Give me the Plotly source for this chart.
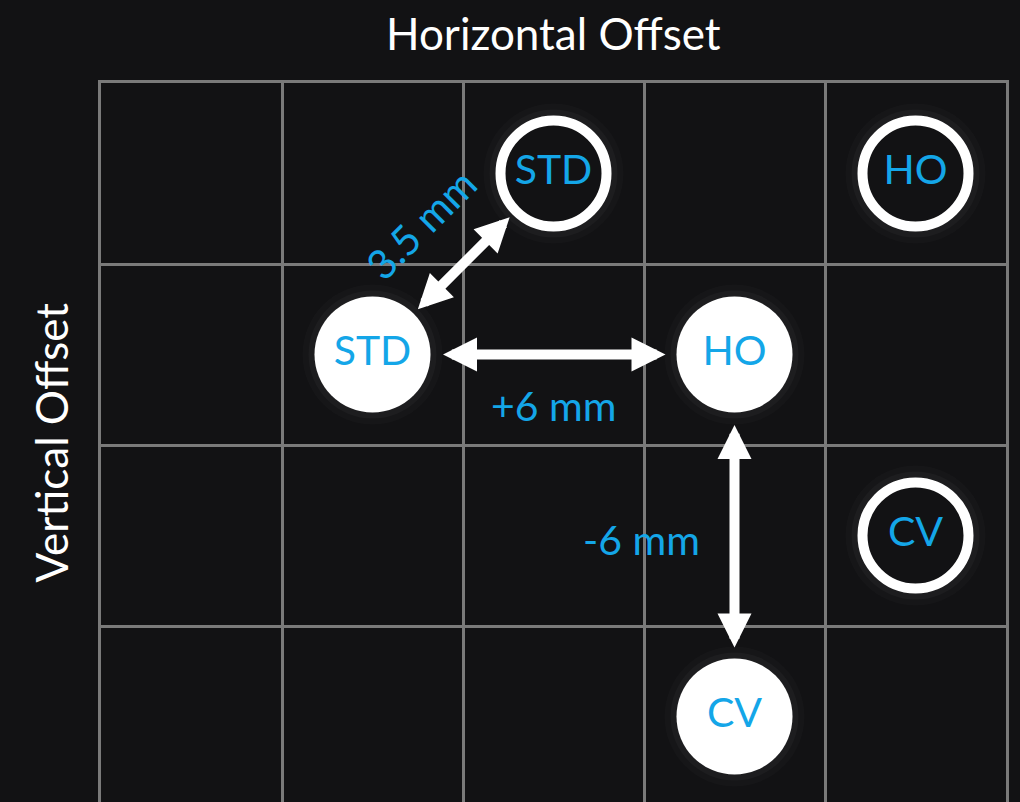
import plotly.graph_objects as go

# ---- data ----
labels_filled = ["STD", "HO", "CV"]
filled_col = [1, 3, 3]
filled_row = [1, 1, 3]

labels_outline = ["STD", "HO", "CV"]
outline_col = [2, 4, 4]
outline_row = [0, 0, 2]

# arrows: (from point, to point, label)
arrow_from = [("filled", 0), ("filled", 0), ("filled", 1)]
arrow_to = [("outline", 0), ("filled", 1), ("filled", 2)]
arrow_labels = ["3.5 mm", "+6 mm", "-6 mm"]

x_title = "Horizontal Offset"
y_title = "Vertical Offset"

BG = "#121214"
BLUE = "#14a6e8"
GRID = "#7a7a7a"
FONT = "Lato"

def pos(kind, i):
    if kind == "filled":
        return filled_col[i], filled_row[i]
    return outline_col[i], outline_row[i]

fig = go.Figure()

# soft glow behind circles
all_col = filled_col + outline_col
all_row = filled_row + outline_row
for size, alpha in [(140, 0.02), (128, 0.03)]:
    fig.add_trace(go.Scatter(
        x=all_col, y=all_row, mode="markers", hoverinfo="skip",
        marker=dict(size=size, color=f"rgba(255,255,255,{alpha})", line=dict(width=0)),
        showlegend=False))

fig.add_trace(go.Scatter(
    x=filled_col, y=filled_row, mode="markers+text", text=labels_filled,
    textposition="middle center",
    textfont=dict(family=FONT, size=41, color=BLUE),
    marker=dict(size=116, color="white", line=dict(width=0)),
    showlegend=False, hoverinfo="skip"))

fig.add_trace(go.Scatter(
    x=outline_col, y=outline_row, mode="markers+text", text=labels_outline,
    textposition="middle center",
    textfont=dict(family=FONT, size=41, color=BLUE),
    marker=dict(size=106, color=BG, line=dict(width=10, color="white")),
    showlegend=False, hoverinfo="skip"))

label_shift = [(-43, 40, -45), (0, -51, 0), (-93, -4, 0)]
for (fk, fi), (tk, ti), lab, (dx, dy, ang) in zip(arrow_from, arrow_to, arrow_labels, label_shift):
    x0, y0 = pos(fk, fi)
    x1, y1 = pos(tk, ti)
    diag = (x0 != x1) and (y0 != y1)
    so = 62 if diag else 69
    fig.add_annotation(
        x=x1, y=y1, ax=x0, ay=y0, xref="x", yref="y", axref="x", ayref="y",
        showarrow=True, arrowhead=2, startarrowhead=2, arrowside="end+start",
        arrowwidth=10, arrowsize=0.68, startarrowsize=0.68,
        arrowcolor="white", standoff=so, startstandoff=so, text="")
    fig.add_annotation(
        x=(x0 + x1) / 2, y=(y0 + y1) / 2, xref="x", yref="y",
        text=lab, showarrow=False, xshift=dx, yshift=dy, textangle=ang,
        font=dict(family=FONT, size=41, color=BLUE))

fig.add_annotation(x=0.5, y=1, xref="paper", yref="paper", text=x_title,
                   showarrow=False, yanchor="middle", yshift=50,
                   font=dict(family=FONT, size=44, color="white"))
fig.add_annotation(x=0, y=0.5, xref="paper", yref="paper", text=y_title,
                   showarrow=False, xanchor="center", xshift=-51, textangle=-90,
                   font=dict(family=FONT, size=44, color="white"))

axis_common = dict(showticklabels=False, ticks="", zeroline=False,
                   showgrid=True, gridcolor=GRID, gridwidth=3, dtick=1,
                   showline=True, linecolor=GRID, linewidth=3, mirror=True,
                   fixedrange=True)
fig.update_xaxes(range=[-0.5, 4.5], tick0=-0.5, **axis_common)
fig.update_yaxes(range=[-0.5 + 719 / 181, -0.5], tick0=-0.5, **axis_common)

fig.update_layout(
    width=1020, height=802,
    margin=dict(l=101, r=14, t=83, b=0),
    paper_bgcolor=BG, plot_bgcolor=BG,
    showlegend=False,
)

fig.write_html(
    "out.html",
    config={"displayModeBar": False},
    post_script=("document.body.style.margin='0';"
                 "document.body.style.background='" + BG + "';"
                 "document.body.style.overflow='hidden';"),
)
